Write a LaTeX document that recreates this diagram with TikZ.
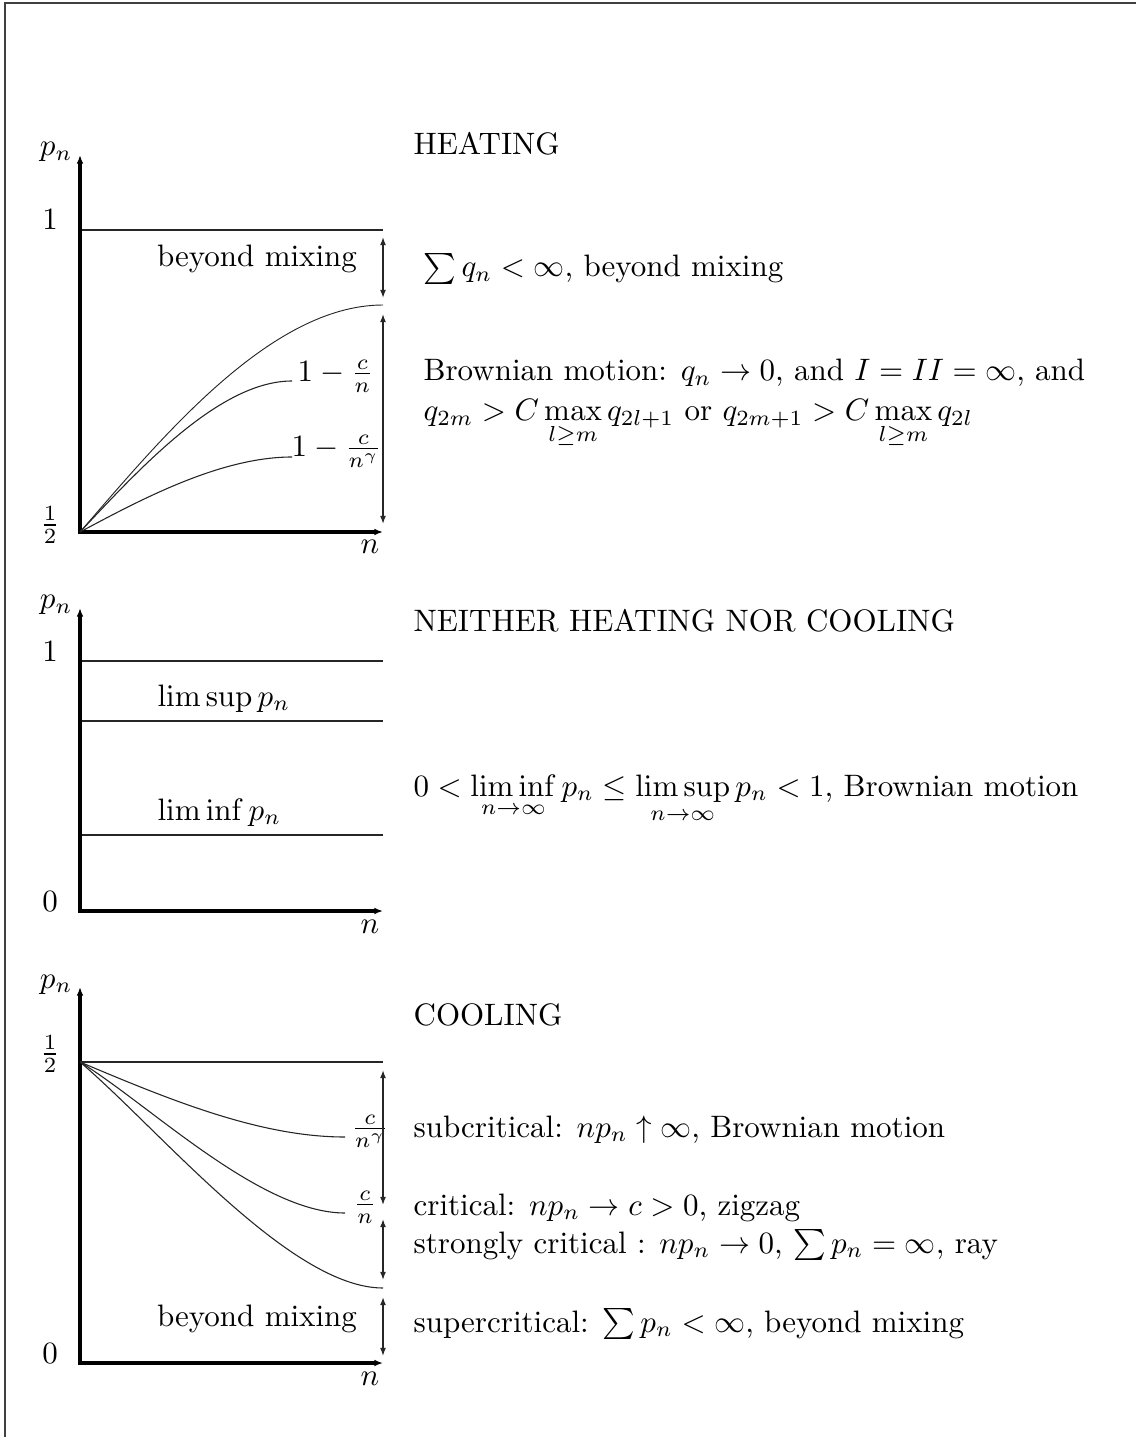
\documentclass[tikz,border=0pt]{standalone}
\usepackage{amsmath,amssymb}
\usetikzlibrary{arrows.meta}
\tikzset{
  axisline/.style={line width=1.3pt, {Latex[length=2.8pt,width=2.2pt]}-{Latex[length=2.8pt,width=2.2pt]}},
  thinline/.style={line width=0.35pt, black!85},
  dblarrow/.style={line width=0.45pt, black!85, {Latex[length=2.6pt,width=1.9pt]}-{Latex[length=2.6pt,width=1.9pt]}},
  txt/.style={anchor=base west, inner sep=0pt},
  ctxt/.style={anchor=base, inner sep=0pt},
  frameline/.style={line width=0.6pt, black!75},
}
\begin{document}
\begin{tikzpicture}[x=0.32258pt, y=-0.32258pt]
\useasboundingbox (0,0) rectangle (1136,1437);
% frame
\coordinate (fTL) at (5,3);
\coordinate (fTR) at (1136,3);
\coordinate (fBL) at (5,1437);
\draw[frameline] (fTR) -- (fTL) -- (fBL);

% ================= Panel 1: HEATING =================
\coordinate (o1) at (80,532);
\coordinate (y1) at (80,155);
\coordinate (x1) at (383,532);
\draw[axisline] (y1) -- (o1) -- (x1);
\node[anchor=base east, inner sep=0pt] (p1) at (73,156) {$p_n$};
\node[ctxt] (n1) at (370,554) {$n$};
\node[ctxt] (one1) at (50,230) {$1$};
\node[inner sep=0pt] (half1) at (50,525) {$\frac{1}{2}$};
\coordinate (l1a) at (82,230);
\coordinate (l1b) at (383,230);
\draw[thinline] (l1a) -- (l1b);
\node[ctxt] (bm1) at (257,267) {beyond mixing};
\coordinate (a1t) at (383,237);
\coordinate (a1b) at (383,298);
\draw[dblarrow] (a1t) -- (a1b);
\coordinate (c1end) at (383,305);
\draw[thinline, line width=0.3pt] (o1) .. controls (160,440) and (270,305) .. (c1end);
\coordinate (a2t) at (383,314);
\coordinate (a2b) at (383,524);
\draw[dblarrow] (a2t) -- (a2b);
\coordinate (c2end) at (292,381);
\draw[thinline] (o1) .. controls (140,468) and (220,381) .. (c2end);
\node[anchor=west, inner sep=0pt] (lab1) at (297,376) {$1-\frac{c}{n}$};
\coordinate (c3end) at (292,457);
\draw[thinline] (o1) .. controls (140,500) and (220,457) .. (c3end);
\node[anchor=west, inner sep=0pt] (lab2) at (291,451) {$1-\frac{c}{n^\gamma}$};

\node[txt] (h1) at (413,155) {HEATING};
\node[txt] (h2) at (423,277) {$\sum q_n<\infty$, beyond mixing};
\node[txt] (h3) at (423,381) {Brownian motion: $q_n\to 0$, and $I=II=\infty$, and};
\node[txt] (h4) at (423,421) {$q_{2m}>C\max\limits_{l\geq m}q_{2l+1}$ or $q_{2m+1}>C\max\limits_{l\geq m}q_{2l}$};

% ================= Panel 2: NEITHER =================
\coordinate (o2) at (80,911);
\coordinate (y2) at (80,608);
\coordinate (x2) at (383,911);
\draw[axisline] (y2) -- (o2) -- (x2);
\node[anchor=base east, inner sep=0pt] (p2) at (73,609) {$p_n$};
\node[ctxt] (n2) at (370,933) {$n$};
\node[ctxt] (one2) at (50,661) {$1$};
\node[ctxt] (zero2) at (50,911) {$0$};
\coordinate (l2a) at (82,661);
\coordinate (l2b) at (383,661);
\draw[thinline] (l2a) -- (l2b);
\coordinate (l3a) at (82,721);
\coordinate (l3b) at (383,721);
\draw[thinline] (l3a) -- (l3b);
\coordinate (l4a) at (82,835);
\coordinate (l4b) at (383,835);
\draw[thinline] (l4a) -- (l4b);
\node[txt] (ls) at (157,706) {$\limsup p_n$};
\node[txt] (li) at (157,820) {$\liminf p_n$};

\node[txt] (t1) at (413,631) {NEITHER HEATING NOR COOLING};
\node[txt] (t2) at (413,796) {$0<\liminf\limits_{n\to\infty}p_n\leq\limsup\limits_{n\to\infty}p_n<1$, Brownian motion};

% ================= Panel 3: COOLING =================
\coordinate (o3) at (80,1363);
\coordinate (y3) at (80,987);
\coordinate (x3) at (383,1363);
\draw[axisline] (y3) -- (o3) -- (x3);
\node[anchor=base east, inner sep=0pt] (p3) at (73,988) {$p_n$};
\node[ctxt] (n3) at (370,1385) {$n$};
\node[inner sep=0pt] (half3) at (50,1054) {$\frac{1}{2}$};
\node[ctxt] (zero3) at (50,1363) {$0$};
\coordinate (s3) at (80,1062);
\coordinate (l5b) at (383,1062);
\draw[thinline] (s3) -- (l5b);
\coordinate (d1end) at (345,1137);
\draw[thinline] (s3) .. controls (170,1100) and (260,1137) .. (d1end);
\node[inner sep=0pt] (lab3) at (370,1131) {$\frac{c}{n^\gamma}$};
\coordinate (d2end) at (345,1213);
\draw[thinline] (s3) .. controls (150,1105) and (260,1213) .. (d2end);
\node[inner sep=0pt] (lab4) at (365,1207) {$\frac{c}{n}$};
\coordinate (d3end) at (383,1288);
\draw[thinline] (s3) .. controls (160,1130) and (290,1288) .. (d3end);
\coordinate (b1t) at (383,1070);
\coordinate (b1b) at (383,1205);
\draw[dblarrow] (b1t) -- (b1b);
\coordinate (b2t) at (383,1219);
\coordinate (b2b) at (383,1280);
\draw[dblarrow] (b2t) -- (b2b);
\coordinate (b3t) at (383,1297);
\coordinate (b3b) at (383,1356);
\draw[dblarrow] (b3t) -- (b3b);
\node[ctxt] (bm3) at (257,1326) {beyond mixing};

\node[txt] (c1) at (413,1025) {COOLING};
\node[txt] (c2) at (413,1137) {subcritical: $np_n\uparrow\infty$, Brownian motion};
\node[txt] (c3) at (413,1215) {critical: $np_n\to c>0$, zigzag};
\node[txt] (c4) at (413,1253) {strongly critical : $np_n\to 0$, $\sum p_n=\infty$, ray};
\node[txt] (c5) at (413,1332) {supercritical: $\sum p_n<\infty$, beyond mixing};
\end{tikzpicture}
\end{document}
